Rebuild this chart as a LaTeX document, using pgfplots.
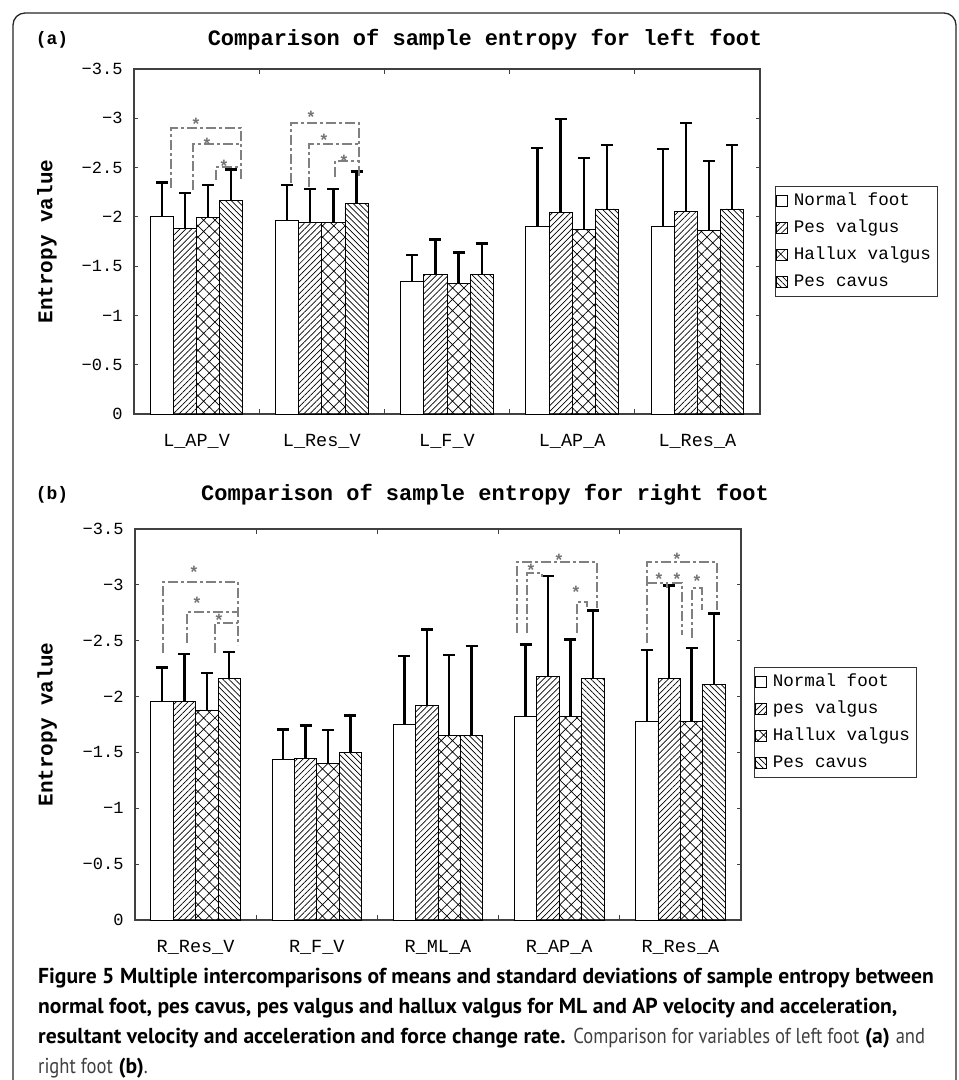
\documentclass[border=0pt]{standalone}
\usepackage{fontspec}
\setmainfont{Liberation Mono}
\newfontfamily\capfont{PT Sans}
\newfontfamily\capreg[FakeStretch=0.86]{PT Sans}
\usepackage{pgfplots}
\usepackage{pgfplotstable}
\pgfplotsset{compat=1.18}
\usetikzlibrary{patterns.meta}

% columns: group, mean and SD for normal foot, pes valgus, hallux valgus, pes cavus
\pgfplotstableread{
g   nf     nfe   pv     pve   hv     hve   pc     pce
1  -2.00  0.35  -1.88  0.36  -1.99  0.33  -2.17  0.31
2  -1.96  0.36  -1.94  0.34  -1.94  0.34  -2.14  0.32
3  -1.34  0.27  -1.42  0.35  -1.32  0.32  -1.42  0.31
4  -1.90  0.80  -2.04  0.95  -1.875 0.72  -2.08  0.65
5  -1.90  0.79  -2.05  0.90  -1.86  0.71  -2.08  0.65
}\lefttab

\pgfplotstableread{
g   nf     nfe   pv     pve   hv     hve   pc     pce
1  -1.96  0.30  -1.96  0.42  -1.88  0.33  -2.16  0.24
2  -1.435 0.27  -1.45  0.29  -1.40  0.30  -1.50  0.33
3  -1.75  0.615 -1.92  0.68  -1.655 0.72  -1.655 0.80
4  -1.82  0.645 -2.18  0.90  -1.82  0.69  -2.16  0.61
5  -1.78  0.64  -2.16  0.835 -1.78  0.655 -2.105 0.64
}\righttab

\pgfplotsset{
  eb/.style={
    error bars/y dir=minus, error bars/y explicit,
    error bars/error bar style={line width=2.3pt, black},
    error bars/error mark options={rotate=90, mark size=6pt, line width=2.3pt, black}},
  sNF/.style={draw=black, line width=0.9pt, fill=white, eb},
  sPV/.style={draw=black, line width=0.9pt, pattern={Lines[angle=45,distance=4.2pt,line width=0.7pt]}, eb},
  sHV/.style={draw=black, line width=0.9pt, pattern={Hatch[angle=45,distance=8pt,line width=0.7pt]}, eb},
  sPC/.style={draw=black, line width=0.9pt, pattern={Lines[angle=-45,distance=4.2pt,line width=0.7pt]}, eb},
  entropy/.style={
    scale only axis,
    ybar=0pt, bar width=0.185,
    xmin=0.5, xmax=5.5, ymin=-3.5, ymax=0, y dir=reverse,
    axis line style={line width=1.1pt, black!75},
    tick align=inside,
    xtick={1,2,3,4,5}, major x tick style={draw=none},
    minor xtick={1.5,2.5,3.5,4.5}, minor tick length=5pt,
    minor x tick style={line width=1pt, black!75},
    ytick={-3.5,-3,-2.5,-2,-1.5,-1,-0.5,0},
    yticklabels={−3.5,−3,−2.5,−2,−1.5,−1,−0.5,0},
    major tick length=4pt, y tick style={line width=1pt, black!75},
    xticklabel style={font=\fontsize{18.5}{18.5}\selectfont, yshift=-17pt},
    yticklabel style={font=\fontsize{17}{17}\selectfont, xshift=-8pt},
    every axis y label/.style={rotate=90, anchor=center, font=\bfseries\fontsize{21}{21}\selectfont},
    legend cell align=left,
    legend image code/.code={\draw[#1, line width=0.8pt] (0pt,-5.5pt) rectangle (11pt,5.5pt);},
    legend style={anchor=north west, draw=black!80, line width=0.9pt,
      font=\fontsize{17.6}{17.6}\selectfont,
      nodes={text height=12.5pt, text depth=3.5pt, inner sep=5.5pt},
      row sep=0pt, inner sep=1pt},
  },
}

\begin{document}
\begin{tikzpicture}
\useasboundingbox (0,0) rectangle (959pt,-1080pt);

% panel (a)
\begin{axis}[entropy,
  at={(134pt,-414pt)}, anchor=south west, width=626pt, height=345pt,
  xticklabels={L\_AP\_V, L\_Res\_V, L\_F\_V, L\_AP\_A, L\_Res\_A},
  ylabel={Entropy value},
  every axis y label/.append style={at={(axis description cs:-0.139,0.5)}},
  legend style={at={(1.024,0.661)}},
]
\addplot[sNF] table[x=g, y=nf, y error=nfe] {\lefttab};
\addlegendentry{Normal foot}
\addplot[sPV] table[x=g, y=pv, y error=pve] {\lefttab};
\addlegendentry{Pes valgus}
\addplot[sHV] table[x=g, y=hv, y error=hve] {\lefttab};
\addlegendentry{Hallux valgus}
\addplot[sPC] table[x=g, y=pc, y error=pce] {\lefttab};
\addlegendentry{Pes cavus}
\end{axis}

% panel (b)
\begin{axis}[entropy,
  at={(135pt,-920pt)}, anchor=south west, width=606pt, height=391pt,
  xticklabels={R\_Res\_V, R\_F\_V, R\_ML\_A, R\_AP\_A, R\_Res\_A},
  ylabel={Entropy value},
  every axis y label/.append style={at={(axis description cs:-0.145,0.5)}},
  legend style={at={(1.0215,0.647)}},
]
\addplot[sNF] table[x=g, y=nf, y error=nfe] {\righttab};
\addlegendentry{Normal foot}
\addplot[sPV] table[x=g, y=pv, y error=pve] {\righttab};
\addlegendentry{pes valgus}
\addplot[sHV] table[x=g, y=hv, y error=hve] {\righttab};
\addlegendentry{Hallux valgus}
\addplot[sPC] table[x=g, y=pc, y error=pce] {\righttab};
\addlegendentry{Pes cavus}
\end{axis}

\begin{scope}[x=1pt, y=-1pt]
  % outer frame
  \draw[line width=1.3pt, black!85, rounded corners=12pt] (13,1090) -- (13,13) -- (956,13) -- (956,1090);

  % panel labels and titles
  \node[font=\bfseries\fontsize{18}{18}\selectfont] at (52,40) {(a)};
  \node[font=\bfseries\fontsize{22}{22}\selectfont] at (485,40) {Comparison of sample entropy for left foot};
  \node[font=\bfseries\fontsize{18}{18}\selectfont] at (52,495) {(b)};
  \node[font=\bfseries\fontsize{22}{22}\selectfont] at (485,495) {Comparison of sample entropy for right foot};

  % significance brackets
  \tikzset{sig/.style={draw=black!50, line width=1.3pt, dash pattern=on 10pt off 3pt on 3pt off 3pt},
           st/.style={text=black!55, font=\bfseries\fontsize{17}{17}\selectfont, inner sep=0pt}}
  % (a) L_AP_V
  \draw[sig] (171,188) -- (171,128) -- (241,128) -- (241,179);
  \draw[sig] (193,190) -- (193,144) -- (241,144);
  \draw[sig] (216,180) -- (216,167) -- (241,167);
  \node[st] at (196,124) {*};
  \node[st] at (207,144) {*};
  \node[st] at (224,166) {*};
  % (a) L_Res_V
  \draw[sig] (291,183) -- (291,123) -- (359,123) -- (359,177);
  \draw[sig] (309,187) -- (309,144) -- (359,144);
  \draw[sig] (335,177) -- (335,161) -- (359,161);
  \node[st] at (311,117) {*};
  \node[st] at (324,140) {*};
  \node[st] at (344,161) {*};
  % (b) R_Res_V
  \draw[sig] (163,653) -- (163,582) -- (238,582) -- (238,645);
  \draw[sig] (187,643) -- (187,612) -- (238,612);
  \draw[sig] (215,653) -- (215,623) -- (238,623);
  \node[st] at (194,572) {*};
  \node[st] at (197,603) {*};
  \node[st] at (219,620) {*};
  % (b) R_AP_A
  \draw[sig] (517,633) -- (517,562) -- (597,562) -- (597,608);
  \draw[sig] (527,633) -- (527,573) -- (542,573) -- (542,577);
  \draw[sig] (577,633) -- (577,602) -- (587,602) -- (587,607);
  \node[st] at (559,560) {*};
  \node[st] at (531,570) {*};
  \node[st] at (576,592) {*};
  % (b) R_Res_A
  \draw[sig] (647,643) -- (647,562) -- (717,562) -- (717,610);
  \draw[sig] (647,583) -- (667,583) -- (667,588);
  \draw[sig] (672,583) -- (682,583) -- (682,635);
  \draw[sig] (692,638) -- (692,588) -- (702,588) -- (702,610);
  \node[st] at (677,559) {*};
  \node[st] at (659,579) {*};
  \node[st] at (677,579) {*};
  \node[st] at (697,581) {*};

  % caption
  \begin{scope}[every node/.style={anchor=base west, inner sep=0pt, font=\capfont\fontsize{21.6}{24}\selectfont}]
  \node at (38,983) {\textbf{Figure 5} \textbf{Multiple intercomparisons of means and standard deviations of sample entropy between}};
  \node at (38,1013) {\textbf{normal foot, pes cavus, pes valgus and hallux valgus for ML and AP velocity and acceleration,}};
  \node at (38,1043) {\textbf{resultant velocity and acceleration and force change rate.} {\capreg\color{black!75}Comparison for variables of left foot} \textbf{(a)} {\capreg\color{black!75}and}};
  \node at (38,1073) {{\capreg\color{black!75}right foot} \textbf{(b)}{\capreg\color{black!75}.}};
  \end{scope}
\end{scope}
\end{tikzpicture}
\end{document}
